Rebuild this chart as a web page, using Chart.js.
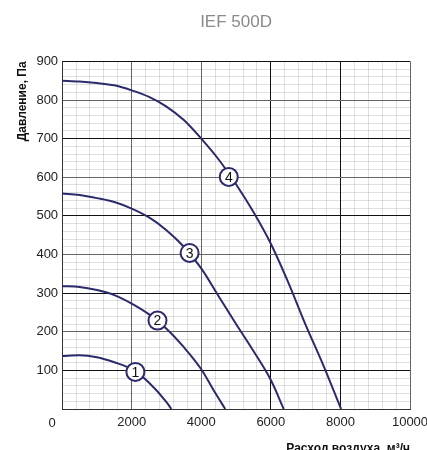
<!DOCTYPE html>
<html>
<head>
<meta charset="utf-8">
<script src="https://cdn.jsdelivr.net/npm/chart.js@4.4.0/dist/chart.umd.min.js"></script>
<style>
  html, body { margin: 0; padding: 0; background: #fff; }
  #wrap { width: 427px; height: 450px; }
</style>
</head>
<body>
<div id="wrap"><canvas id="myChart"></canvas></div>
<script>
// curves
var curva1X = [0, 500, 1000, 1500, 2000, 2500, 3000, 3140]
var curva1Y = [137, 139, 134, 121, 103, 68, 18, 0]
var curva2X = [0, 500, 1000, 1500, 2000, 2500, 3000, 3500, 4000, 4400, 4690]
var curva2Y = [318, 316, 308, 295, 273, 245, 208, 160, 103, 42, 0]
var curva3X = [0, 500, 1000, 1500, 2000, 2500, 3000, 3500, 4000, 4500, 5000, 5500, 6000, 6370]
var curva3Y = [558, 554, 546, 536, 519, 496, 463, 420, 364, 292, 220, 150, 75, 0]
var curva4X = [0, 500, 1000, 1500, 2000, 2500, 3000, 3500, 4000, 4500, 5000, 5500, 6000, 6500, 7000, 7500, 8020]
var curva4Y = [850, 848, 844, 838, 825, 808, 783, 748, 700, 646, 582, 510, 428, 328, 218, 115, 0]

// numbered circles
var marcasNum = ['1', '2', '3', '4']
var marcasX = [2107, 2742, 3665, 4791]
var marcasY = [96, 229, 404, 601]

var xTicks = [0, 2000, 4000, 6000, 8000, 10000]
var yTicks = [100, 200, 300, 400, 500, 600, 700, 800, 900]

const AZUL = '#2b2b6b'
const FONTE = '"Liberation Sans", Arial, sans-serif'

function pontos(xs, ys) {
    return xs.map((x, i) => ({ x: x, y: ys[i] }))
}

function curva(xs, ys) {
    return {
        type: 'line',
        data: pontos(xs, ys),
        borderColor: AZUL,
        borderWidth: 2,
        pointRadius: 0,
        fill: false,
        cubicInterpolationMode: 'monotone',
        order: 2
    }
}

function corGradeX(ctx) {
    var v = ctx.tick.value
    if (v % 2000 != 0) return 'rgba(0,0,0,0.12)'
    if (v == 6000 || v == 8000) return '#111'
    return '#666'
}

function corGradeY(ctx) {
    var v = ctx.tick.value
    if (v % 100 != 0) return 'rgba(0,0,0,0.12)'
    if (v % 200 == 100) return '#111'
    return '#666'
}

// labels inside the circles + the shared "0" at the origin
const textosPlugin = {
    id: 'textos',
    afterDatasetsDraw(chart) {
        const c = chart.ctx
        const meta = chart.getDatasetMeta(4)
        c.save()
        c.fillStyle = '#111'
        c.font = '14px ' + FONTE
        c.textAlign = 'center'
        c.textBaseline = 'middle'
        meta.data.forEach((p, i) => {
            c.fillText(marcasNum[i], p.x, p.y + 1)
        })
        const a = chart.chartArea
        c.font = '13px ' + FONTE
        c.fillStyle = '#222'
        c.fillText('0', a.left - 10, a.bottom + 14)
        c.restore()
    }
}

var ctx = document.getElementById('myChart').getContext('2d');
var chart = new Chart(ctx, {
    type: 'scatter',
    data: {
        datasets: [
            curva(curva1X, curva1Y),
            curva(curva2X, curva2Y),
            curva(curva3X, curva3Y),
            curva(curva4X, curva4Y),
            {
                type: 'scatter',
                data: pontos(marcasX, marcasY),
                pointRadius: 9,
                pointBorderWidth: 2,
                pointBackgroundColor: '#fff',
                pointBorderColor: AZUL,
                order: 1
            }
        ]
    },
    options: {
        responsive: true,
        maintainAspectRatio: false,
        animation: false,
        layout: { padding: { left: 15, right: 0, top: 0, bottom: -6 } },
        plugins: {
            legend: { display: false },
            tooltip: { enabled: false },
            title: {
                display: true,
                text: 'IEF 500D',
                fullSize: false,
                color: '#8a8a8a',
                font: { family: FONTE, size: 17, weight: 'normal' },
                padding: { top: 12, bottom: 29 }
            }
        },
        scales: {
            x: {
                type: 'linear',
                min: 0,
                max: 10000,
                border: { display: true, color: '#333', width: 1 },
                grid: { color: corGradeX, lineWidth: 1, drawTicks: false },
                afterBuildTicks: axis => {
                    axis.ticks = []
                    for (let v = 0; v <= 10000; v += 400) axis.ticks.push({ value: v })
                },
                afterFit: axis => {
                    // let the "10000" label hang over the right edge like the original
                    axis.paddingRight = 17
                },
                ticks: {
                    autoSkip: false,
                    maxRotation: 0,
                    padding: 6,
                    color: '#222',
                    font: { family: FONTE, size: 13 },
                    callback: v => (xTicks.includes(v) && v != 0) ? v : ''
                },
                title: {
                    display: true,
                    text: 'Расход воздуха, м³/ч',
                    align: 'end',
                    color: '#111',
                    font: { family: FONTE, size: 12, weight: 'bold' },
                    padding: { top: 5, bottom: 0 }
                }
            },
            y: {
                type: 'linear',
                min: 0,
                max: 900,
                border: { display: true, color: '#333', width: 1 },
                grid: { color: corGradeY, lineWidth: 1, drawTicks: false },
                afterBuildTicks: axis => {
                    axis.ticks = []
                    for (let v = 0; v <= 900; v += 20) axis.ticks.push({ value: v })
                },
                ticks: {
                    autoSkip: false,
                    padding: 4,
                    color: '#222',
                    font: { family: FONTE, size: 13 },
                    callback: v => yTicks.includes(v) ? v : ''
                },
                title: {
                    display: true,
                    text: 'Давление, Па',
                    align: 'end',
                    color: '#111',
                    font: { family: FONTE, size: 12, weight: 'bold' },
                    padding: { top: 0, bottom: 3 }
                }
            }
        }
    },
    plugins: [textosPlugin]
});
</script>
</body>
</html>
